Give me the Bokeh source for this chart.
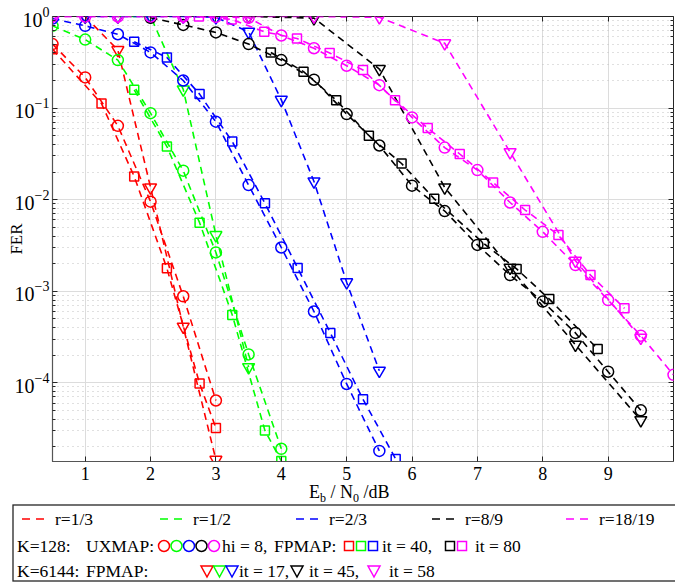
import math
from bokeh.plotting import figure
from bokeh.models import Range1d, FixedTicker, Div, LinearAxis, LogAxis
from bokeh.layouts import column
from bokeh.embed import file_html
from bokeh.resources import INLINE

# ---------------- data (Eb/N0 in dB, FER) ----------------
# r = 1/3
r13_ux_x = [0.5, 1.0, 1.5, 2.0, 2.5, 3.0]
r13_ux_y = [0.50, 0.216, 0.064, 0.0095, 8.8e-4, 6.4e-5]
r13_fp_x = [0.5, 1.25, 1.75, 2.25, 2.75, 3.0]
r13_fp_y = [0.44, 0.112, 0.0179, 1.78e-3, 9.8e-5, 3.2e-5]
r13_lg_x = [1.0, 1.5, 2.0, 2.5, 3.0]
r13_lg_y = [1.0, 0.43, 0.0136, 4.1e-4, 1.44e-5]
# r = 1/2
r12_ux_x = [0.5, 1.0, 1.5, 2.0, 2.5, 3.0, 3.5, 4.0]
r12_ux_y = [0.79, 0.56, 0.334, 0.088, 0.0207, 2.65e-3, 2.04e-4, 1.9e-5]
r12_fp_x = [1.75, 2.25, 2.75, 3.25, 3.75, 4.0]
r12_fp_y = [0.158, 0.038, 5.6e-3, 5.5e-4, 3.0e-5, 1.4e-5]
r12_lg_x = [1.5, 2.0, 2.5, 3.0, 3.5]
r12_lg_y = [1.0, 1.0, 0.16, 4.1e-3, 1.48e-4]
# r = 2/3
r23_ux_x = [0.5, 1.0, 1.5, 2.0, 2.5, 3.0, 3.5, 4.0, 4.5, 5.0, 5.5]
r23_ux_y = [0.95, 0.79, 0.64, 0.405, 0.2, 0.071, 0.0144, 3.0e-3, 6.0e-4, 9.7e-5, 1.8e-5]
r23_fp_x = [1.75, 2.25, 2.75, 3.25, 3.75, 4.25, 4.75, 5.25, 5.75]
r23_fp_y = [0.53, 0.357, 0.142, 0.043, 9.1e-3, 1.79e-3, 3.5e-4, 6.6e-5, 1.47e-5]
r23_lg_x = [1.0, 1.5, 2.0, 2.5, 3.0, 3.5, 4.0, 4.5, 5.0, 5.5]
r23_lg_y = [1.0, 1.0, 1.0, 1.0, 0.98, 0.68, 0.123, 0.0158, 1.25e-3, 1.35e-4]
# r = 8/9
r89_ux_x = [2.0, 2.5, 3.0, 3.5, 4.0, 4.5, 5.0, 5.5, 6.0, 6.5, 7.0, 7.5, 8.0, 8.5, 9.0, 9.5]
r89_ux_y = [0.97, 0.81, 0.67, 0.5, 0.334, 0.204, 0.086, 0.039, 0.0142, 7.5e-3, 3.2e-3,
            1.5e-3, 7.7e-4, 3.5e-4, 1.32e-4, 5.0e-5]
r89_fp_x = [3.84, 4.34, 4.84, 5.34, 5.84, 6.34, 7.1, 7.6, 8.1, 8.84]
r89_fp_y = [0.405, 0.25, 0.122, 0.0499, 0.0248, 0.0102, 3.3e-3, 1.75e-3, 8.2e-4, 2.34e-4]
r89_lg_x = [3.5, 4.5, 5.5, 6.5, 7.5, 8.5, 9.5]
r89_lg_y = [1.0, 0.96, 0.267, 0.0136, 1.8e-3, 2.6e-4, 3.9e-5]
# r = 18/19
r1819_ux_x = [0.5, 1.0, 1.5, 2.0, 2.5, 3.0, 3.5, 4.0, 4.5, 5.0, 5.5, 6.0, 6.5, 7.0, 7.5,
              8.0, 8.5, 9.0, 9.5, 10.0]
r1819_ux_y = [1.0, 1.0, 1.0, 1.0, 1.0, 0.99, 0.97, 0.62, 0.45, 0.29, 0.178, 0.079, 0.037,
              0.021, 9.3e-3, 4.45e-3, 1.93e-3, 8.0e-4, 3.27e-4, 1.22e-4]
r1819_fp_x = [2.74, 3.24, 3.74, 4.24, 4.74, 5.25, 5.74, 6.24, 6.73, 7.24, 7.73, 8.24, 8.73, 9.25]
r1819_fp_y = [1.0, 0.93, 0.68, 0.575, 0.40, 0.26, 0.122, 0.0605, 0.0315, 0.0154, 7.7e-3,
              4.1e-3, 1.5e-3, 6.5e-4]
r1819_lg_x = [0.5, 1.5, 2.5, 3.5, 4.5, 5.5, 6.5, 7.5, 8.5, 9.5]
r1819_lg_y = [1.0, 1.0, 1.0, 1.0, 1.0, 0.98, 0.51, 0.033, 2.15e-3, 3.1e-4]

x_ticks = [1, 2, 3, 4, 5, 6, 7, 8, 9]
y_ticks = [1e-4, 1e-3, 1e-2, 1e-1, 1e0]

rate_labels = ["r=1/3", "r=1/2", "r=2/3", "r=8/9", "r=18/19"]

RED, GREEN, BLUE, BLACK, MAG = "#ff0000", "#00ff00", "#0000ff", "#000000", "#ff00ff"
FONT = "Liberation Serif"
DASH = "7 5"

series = [
    (RED, r13_ux_x, r13_ux_y, r13_fp_x, r13_fp_y, r13_lg_x, r13_lg_y),
    (GREEN, r12_ux_x, r12_ux_y, r12_fp_x, r12_fp_y, r12_lg_x, r12_lg_y),
    (BLUE, r23_ux_x, r23_ux_y, r23_fp_x, r23_fp_y, r23_lg_x, r23_lg_y),
    (BLACK, r89_ux_x, r89_ux_y, r89_fp_x, r89_fp_y, r89_lg_x, r89_lg_y),
    (MAG, r1819_ux_x, r1819_ux_y, r1819_fp_x, r1819_fp_y, r1819_lg_x, r1819_lg_y),
]

W = 675
H_MAIN = 483
H_LEG = 99

p = figure(width=W, height=H_MAIN, y_axis_type="log",
           x_range=Range1d(0.5, 10), y_range=Range1d(1.38e-5, 1.0),
           output_backend="svg", toolbar_location=None,
           min_border_left=52, min_border_right=2, min_border_top=16, min_border_bottom=22)
p.background_fill_color = "white"
p.outline_line_color = "#262626"
p.outline_line_width = 1

for col, ux, uy, fx, fy, lx, ly in series:
    for xs, ys, mk, sz in ((ux, uy, "circle", 11), (fx, fy, "square", 9), (lx, ly, "inverted_triangle", 12)):
        p.line(xs, ys, line_color=col, line_width=1.6, line_dash=DASH)
        p.scatter(xs, ys, marker=mk, size=sz, fill_color=None, line_color=col, line_width=1.5)

minors = [k * 10.0 ** e for e in range(-5, 0) for k in range(2, 10)]
bottom_ax = p.below[0]
left_ax = p.left[0]
bottom_ax.ticker = FixedTicker(ticks=x_ticks)
left_ax.ticker = FixedTicker(ticks=y_ticks, minor_ticks=minors)
p.xgrid.ticker = FixedTicker(ticks=x_ticks)
p.ygrid.ticker = FixedTicker(ticks=y_ticks, minor_ticks=minors)

# mirrored tick marks on top and right (labels invisible)
top_ax = LinearAxis(ticker=FixedTicker(ticks=x_ticks))
right_ax = LogAxis(ticker=FixedTicker(ticks=y_ticks, minor_ticks=minors))
for ax in (top_ax, right_ax):
    ax.major_label_text_font_size = "1px"
    ax.major_label_text_alpha = 0
    ax.major_label_standoff = 0
    ax.axis_line_color = None
p.add_layout(top_ax, "above")
p.add_layout(right_ax, "right")

for ax in (bottom_ax, left_ax, top_ax, right_ax):
    ax.major_tick_in = 5
    ax.major_tick_out = 0
    ax.minor_tick_in = 3
    ax.minor_tick_out = 0
    ax.major_tick_line_color = "#262626"
    ax.minor_tick_line_color = "#262626"
for ax in (bottom_ax, left_ax):
    ax.axis_line_color = "#555555"
    ax.axis_line_width = 1.2
    ax.major_label_text_font = FONT
    ax.major_label_text_color = "black"
bottom_ax.major_label_text_font_size = "18px"
bottom_ax.major_label_standoff = 5
left_ax.major_label_text_font_size = "20px"
left_ax.major_label_standoff = 3
left_ax.axis_label = "FER"
left_ax.axis_label_text_font = FONT
left_ax.axis_label_text_font_style = "normal"
left_ax.axis_label_text_color = "black"
left_ax.axis_label_text_font_size = "17px"
left_ax.axis_label_standoff = -14

p.xgrid.grid_line_color = "#dcdcdc"
p.ygrid.grid_line_color = "#dcdcdc"
p.ygrid.minor_grid_line_color = "#c0c0c0"
p.ygrid.minor_grid_line_dash = "1 4"
p.ygrid.minor_grid_line_width = 1

# ---------------- x-axis label + legend (inline SVG in a Div) ----------------
FSTYLE = f"font-family:'{FONT}',serif;"

def t(x, y, s, size=17.5):
    return (f'<text x="{x}" y="{y}" style="{FSTYLE}font-size:{size}px;fill:black" '
            f'dominant-baseline="central">{s}</text>')

def circ(x, y, c):
    return f'<circle cx="{x}" cy="{y}" r="5.5" fill="none" stroke="{c}" stroke-width="1.5"/>'

def sq(x, y, c):
    return f'<rect x="{x-4.5}" y="{y-4.5}" width="9" height="9" fill="none" stroke="{c}" stroke-width="1.5"/>'

def tri(x, y, c):
    return (f'<polygon points="{x-6},{y-5} {x+6},{y-5} {x},{y+6}" fill="none" '
            f'stroke="{c}" stroke-width="1.5"/>')

parts = []
# x label  "E_b / N_0 /dB"
parts.append(f'<text x="309" y="15" style="{FSTYLE}font-size:18px;fill:black">E'
             f'<tspan style="font-size:12px" dy="4">b</tspan><tspan dy="-4"> / N</tspan>'
             f'<tspan style="font-size:12px" dy="4">0</tspan><tspan dy="-4"> /dB</tspan></text>')
# box
parts.append('<rect x="13" y="22" width="700" height="76" fill="none" stroke="#262626" stroke-width="1.3"/>')
# row 1
r1 = 36
for c, x0, lab in zip([RED, GREEN, BLUE, BLACK, MAG], [22, 160, 296, 432, 566], rate_labels):
    parts.append(f'<line x1="{x0}" y1="{r1}" x2="{x0+22}" y2="{r1}" stroke="{c}" '
                 f'stroke-width="1.6" stroke-dasharray="8,6"/>')
    parts.append(t(x0 + 33, r1, lab))
# row 2
r2 = 63
parts.append(t(17, r2, "K=128:"))
parts.append(t(86, r2, "UXMAP:"))
for i, c in enumerate([RED, GREEN, BLUE, BLACK, MAG]):
    parts.append(circ(164 + 12.5 * i, r2, c))
parts.append(t(222, r2, "hi = 8,"))
parts.append(t(274, r2, "FPMAP:"))
for i, c in enumerate([RED, GREEN, BLUE]):
    parts.append(sq(349 + 12 * i, r2, c))
parts.append(t(382, r2, "it = 40,"))
for i, c in enumerate([BLACK, MAG]):
    parts.append(sq(450 + 12 * i, r2, c))
parts.append(t(475, r2, "it = 80"))
# row 3
r3 = 88
parts.append(t(17, r3, "K=6144:"))
parts.append(t(86, r3, "FPMAP:"))
for i, c in enumerate([RED, GREEN, BLUE]):
    parts.append(tri(207 + 12.5 * i, r3, c))
parts.append(t(239, r3, "it = 17,"))
parts.append(tri(297, r3, BLACK))
parts.append(t(309, r3, "it = 45,"))
parts.append(tri(374, r3, MAG))
parts.append(t(389, r3, "it = 58"))

svg = (f'<svg xmlns="http://www.w3.org/2000/svg" width="{W}" height="{H_LEG}" '
       f'style="display:block">' + "".join(parts) + '</svg>')
leg = Div(text=svg, width=W, height=H_LEG, margin=(0, 0, 0, 0))

layout = column(p, leg, spacing=0)
open("out.html", "w").write(file_html(layout, INLINE))
